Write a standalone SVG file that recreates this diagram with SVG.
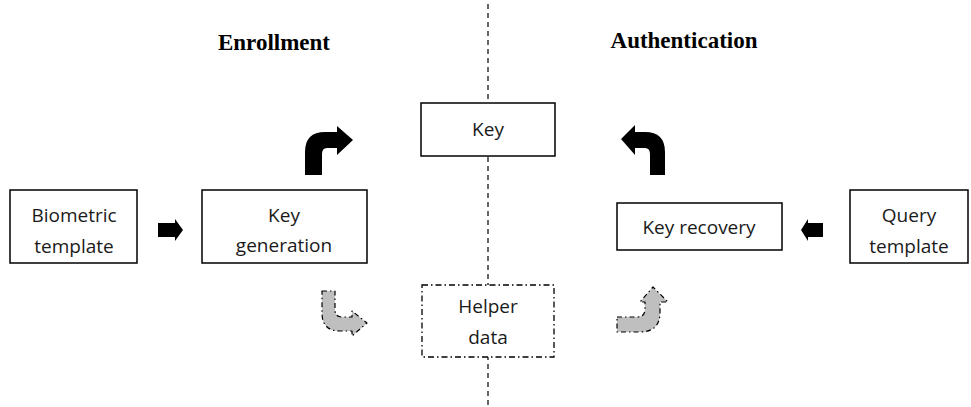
<svg xmlns="http://www.w3.org/2000/svg" width="971" height="407" viewBox="0 0 971 407">
  <style>
    .box { fill: #ffffff; stroke: #000000; stroke-width: 1.5; }
    .dbox { fill: #ffffff; stroke: #000000; stroke-width: 1.3; stroke-dasharray: 6 3 1.5 3; }
    .lbl { font-family: "Open Sans", "Liberation Sans", sans-serif; font-size: 19px; fill: #1a1a1a; text-anchor: middle; }
    .head { font-family: "Liberation Serif", serif; font-size: 23px; font-weight: bold; fill: #000000; text-anchor: middle; }
    .solid { fill: #000000; stroke: none; }
    .ghost { fill: #bfbfbf; stroke: #000000; stroke-width: 1.2; stroke-dasharray: 5 3 1.5 3; stroke-linejoin: round; }
    .divider { stroke: #000000; stroke-width: 1.2; stroke-dasharray: 5 4; fill: none; }
  </style>

  <rect width="971" height="407" fill="#ffffff"/>

  <!-- phase divider -->
  <line class="divider" x1="488" y1="4" x2="488" y2="407"/>

  <!-- phase titles -->
  <text class="head" x="274" y="50">Enrollment</text>
  <text class="head" x="684" y="48">Authentication</text>

  <g id="key">
    <rect class="box" x="421" y="103" width="134" height="53"/>
    <text class="lbl" x="488" y="136">Key</text>
  </g>

  <g id="biometric-template">
    <rect class="box" x="10" y="190" width="127" height="73"/>
    <text class="lbl" x="74" y="222">Biometric</text>
    <text class="lbl" x="74" y="253">template</text>
  </g>

  <g id="key-generation">
    <rect class="box" x="202" y="190" width="165" height="73"/>
    <text class="lbl" x="284" y="222">Key</text>
    <text class="lbl" x="284" y="252">generation</text>
  </g>

  <g id="key-recovery">
    <rect class="box" x="617" y="203" width="165" height="47"/>
    <text class="lbl" x="699" y="234">Key recovery</text>
  </g>

  <g id="query-template">
    <rect class="box" x="850" y="190" width="118" height="73"/>
    <text class="lbl" x="909" y="222">Query</text>
    <text class="lbl" x="909" y="253">template</text>
  </g>

  <g id="helper-data">
    <rect class="dbox" x="422" y="285" width="132" height="72"/>
    <text class="lbl" x="488" y="313">Helper</text>
    <text class="lbl" x="488" y="344">data</text>
  </g>

  <g id="connectors">
    <!-- straight block arrows -->
    <path class="solid" d="M158,223 L175,223 L175,219 L183,230 L175,241 L175,237 L158,237 Z"/>
    <path class="solid" d="M823,223 L808,223 L808,219 L801,230 L808,241 L808,237 L823,237 Z"/>

    <!-- bent arrow: key generation to key -->
    <path class="solid" d="M305,175 L305,152 Q305,132 325,132 L337,132 L337,126 L353,140 L337,155 L337,148 L327,148 Q322,148 322,154 L322,175 Z"/>

    <!-- bent arrow: key recovery to key -->
    <path class="solid" d="M665,175 L665,152 Q665,132 645,132 L635,132 L635,125 L621,139 L635,155 L635,148 L645,148 Q650,148 650,154 L650,175 Z"/>

    <!-- bent arrow: key generation to helper data -->
    <path class="ghost" d="M322,291 L335,291 L335,310 Q335,317 342,317 L352,317 L352,311 L367,323 L352,336 L352,331 L340,331 Q322,331 322,313 Z"/>

    <!-- bent arrow: helper data to key recovery -->
    <path class="ghost" d="M617,317 L637,317 Q645,317 645,309 L645,302 L640,302 L653,287 L668,302 L660,302 L660,312 Q660,332 640,332 L617,332 Z"/>
  </g>
</svg>
